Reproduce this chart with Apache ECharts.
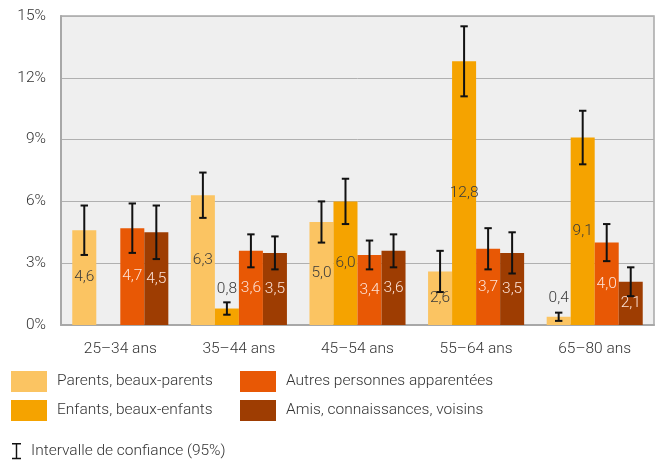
<!DOCTYPE html>
<html><head><meta charset="utf-8">
<script src="https://cdn.jsdelivr.net/npm/echarts@6/dist/echarts.min.js"></script>
<style>html,body{margin:0;padding:0;background:#fff}#c{width:663px;height:463px}</style>
</head><body><div id="c"></div>
<script>
const categories = ['25–34 ans', '35–44 ans', '45–54 ans', '55–64 ans', '65–80 ans'];
const seriesNames = ['Parents, beaux-parents', 'Enfants, beaux-enfants', 'Autres personnes apparentées', 'Amis, connaissances, voisins'];
const colors = ['#fbc462', '#f5a300', '#e85805', '#9e3d02'];
const parents = [4.6, 6.3, 5.0, 2.6, 0.4];
const enfants = [null, 0.8, 6.0, 12.8, 9.1];
const autres = [4.7, 3.6, 3.4, 3.7, 4.0];
const amis = [4.5, 3.5, 3.6, 3.5, 2.1];
const parentsLow = [3.4, 5.2, 4.0, 1.6, 0.2];
const parentsHigh = [5.8, 7.4, 6.0, 3.6, 0.6];
const enfantsLow = [null, 0.5, 4.9, 11.1, 7.8];
const enfantsHigh = [null, 1.1, 7.1, 14.5, 10.4];
const autresLow = [3.5, 2.8, 2.7, 2.7, 3.1];
const autresHigh = [5.9, 4.4, 4.1, 4.7, 4.9];
const amisLow = [3.2, 2.7, 2.8, 2.5, 1.4];
const amisHigh = [5.8, 4.3, 4.4, 4.5, 2.8];
const yTicks = [0, 3, 6, 9, 12, 15];
const ciName = 'Intervalle de confiance (95%)';

const values = [parents, enfants, autres, amis];
const lows = [parentsLow, enfantsLow, autresLow, amisLow];
const highs = [parentsHigh, enfantsHigh, autresHigh, amisHigh];
const labelColors = ['#3a3a3a', '#3a3a3a', '#fde3d8', '#fde3d8'];
const gapPct = 0.19;
const FONT = 'Roboto, "Noto Sans", sans-serif';
const FS = 15.5;
const fmt = v => v.toFixed(1).replace('.', ',');

const barSeries = seriesNames.map((name, si) => ({
  name, type: 'bar', barGap: 0, barCategoryGap: (gapPct * 100) + '%',
  itemStyle: { color: colors[si] },
  data: values[si].map(v => v === null ? null : (v < 1 ? {
    value: v,
    label: { position: 'top', distance: 11, color: '#3a3a3a' }
  } : v)),
  label: {
    show: true, position: 'inside', color: labelColors[si],
    fontFamily: FONT, fontSize: FS, fontWeight: 300,
    formatter: p => fmt(p.value)
  },
  z: 2
}));

const ciData = [];
for (let si = 0; si < 4; si++) {
  for (let ci = 0; ci < categories.length; ci++) {
    if (lows[si][ci] !== null) ciData.push([ci, si, lows[si][ci], highs[si][ci]]);
  }
}

const ciSeries = {
  name: ciName, type: 'custom',
  itemStyle: { color: '#111' },
  data: ciData,
  encode: { x: 0, y: [2, 3] },
  renderItem: (params, api) => {
    const ci = api.value(0), si = api.value(1);
    const lo = api.coord([ci, api.value(2)]);
    const hi = api.coord([ci, api.value(3)]);
    const band = api.size([1, 0])[0];
    const bw = band * (1 - gapPct) / 4;
    const x = lo[0] + (si - 1.5) * bw;
    const cap = 3.7;
    const style = { stroke: '#111', lineWidth: 2, fill: null };
    return {
      type: 'group', z2: 10,
      children: [
        { type: 'line', shape: { x1: x, y1: lo[1], x2: x, y2: hi[1] }, style },
        { type: 'line', shape: { x1: x - cap, y1: lo[1], x2: x + cap, y2: lo[1] }, style },
        { type: 'line', shape: { x1: x - cap, y1: hi[1], x2: x + cap, y2: hi[1] }, style }
      ]
    };
  },
  z: 5
};

const legendText = { fontFamily: FONT, fontSize: FS, fontWeight: 300, color: '#333', padding: [0, 0, 0, 5] };

const option = {
  animation: false,
  textStyle: { fontFamily: FONT },
  grid: { left: 61, right: 9, top: 16, bottom: 138, show: true, backgroundColor: '#efefef', borderColor: '#a8a8a8', borderWidth: 1.5 },
  legend: [
    { left: 11, top: 371, orient: 'vertical', padding: 0, itemWidth: 36, itemHeight: 21, itemGap: 8, selectedMode: false, textStyle: legendText, data: [seriesNames[0], seriesNames[1]].map(n => ({ name: n, icon: 'rect' })) },
    { left: 240, top: 371, orient: 'vertical', padding: 0, itemWidth: 36, itemHeight: 21, itemGap: 8, selectedMode: false, textStyle: legendText, data: [seriesNames[2], seriesNames[3]].map(n => ({ name: n, icon: 'rect' })) },
    { left: 12, top: 443, padding: 0, itemWidth: 9, itemHeight: 18, selectedMode: false, textStyle: legendText,
      data: [{ name: ciName, icon: 'path://M0,0H10V1.6H5.8V16.4H10V18H0V16.4H4.2V1.6H0Z', itemStyle: { color: '#111' } }] }
  ],
  xAxis: {
    type: 'category', data: categories,
    axisLine: { show: true, lineStyle: { color: '#a8a8a8', width: 2 } },
    axisTick: { show: false },
    axisLabel: { fontFamily: FONT, fontSize: FS, fontWeight: 300, color: '#333', margin: 16 }
  },
  yAxis: {
    type: 'value', min: 0, max: 15, interval: 3,
    axisLine: { show: true, lineStyle: { color: '#a8a8a8', width: 2 } },
    axisTick: { show: false },
    splitLine: { lineStyle: { color: '#b0b0b0', width: 1 } },
    axisLabel: { fontFamily: FONT, fontSize: FS, fontWeight: 300, color: '#333', margin: 15,
      formatter: v => yTicks.includes(v) ? v + '%' : '' }
  },
  series: barSeries.concat([ciSeries])
};

const chart = echarts.init(document.getElementById('c'), null, { renderer: 'canvas' });
chart.setOption(option);
</script></body></html>
